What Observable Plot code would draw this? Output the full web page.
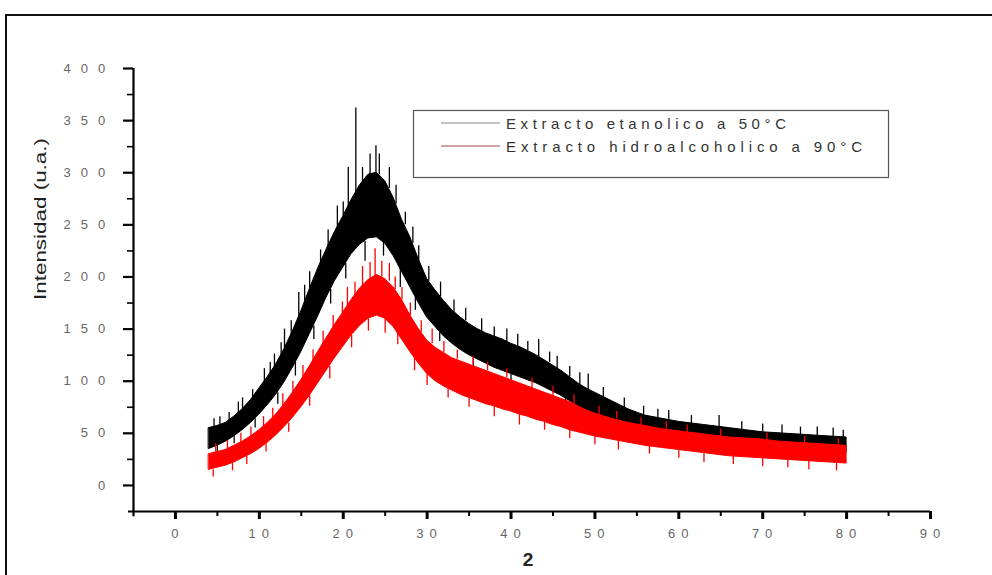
<!DOCTYPE html>
<html>
<head>
<meta charset="utf-8">
<script src="https://cdn.jsdelivr.net/npm/d3@7"></script>
<script src="https://cdn.jsdelivr.net/npm/@observablehq/plot@0.6"></script>
<style>
  html, body { margin: 0; padding: 0; background: #fff; }
  #wrap { position: relative; width: 992px; height: 575px; overflow: hidden; }
  #frame { position: absolute; left: 5px; top: 14px; width: 1100px; height: 700px;
           border-left: 2px solid #111; border-top: 2px solid #111; }
  #chart { position: absolute; left: 0; top: 0; }
  g[aria-label$="tick label"] { fill: #666; }
  g[aria-label="y-axis tick label"] { letter-spacing: 3.2px; }
  g[aria-label="x-axis tick label"] { letter-spacing: 1.2px; }
</style>
</head>
<body>
<div id="wrap"><div id="frame"></div><div id="chart"></div></div>
<script>
// ---- data (lower / upper edge of each noisy trace) ----
const blackX    = [4,5,6,7,8,9,10,11,12,13,14,15,16,17,18,19,20,21,22,23,24,25,26,27,28,29,30,31,32,33,34,35,36,37,38,39,40,41,42,43,44,45,46,47,48,49,50,51,52,53,54,55,56,58,60,62,64,66,68,70,72,74,76,78,80];
const blackLow  = [35,38,42,47,53,60,68,77,87,99,113,128,145,162,180,196,209,222,231,237,238,232,220,205,190,175,161,152,143,136,130,125,121,117,113,110,107,104,101,98,94,90,86,81,76,72,68,64,61,58,55,53,51,48,45,43,41,39,38,36,35,34,33,32,31];
const blackHigh = [55,57,60,66,73,82,93,104,116,131,148,167,188,208,226,243,258,274,288,298,300,292,276,255,238,217,198,187,177,168,161,155,150,146,143,140,136,133,129,125,120,115,110,104,98,93,89,85,81,77,73,70,67,64,61,59,57,55,53,51,50,49,48,47,46];

const redX    = [4,5,6,7,8,9,10,11,12,13,14,15,16,17,18,19,20,21,22,23,24,25,26,27,28,29,30,31,32,33,34,35,36,37,38,39,40,41,42,43,44,45,46,47,48,49,50,52,54,56,58,60,62,64,66,68,70,72,74,76,78,80];
const redLow  = [15,17,19,22,26,30,35,41,48,56,65,75,86,98,110,122,133,144,153,160,163,160,152,140,128,117,107,100,95,91,87,84,81,78,76,73,71,68,66,63,61,58,56,53,51,49,47,44,41,38,36,34,32,30,28,27,26,25,24,23,22,21];
const redHigh = [30,32,34,38,42,47,53,60,68,78,89,101,114,128,141,154,166,178,189,197,202,198,190,178,163,150,139,132,127,122,119,116,113,110,107,104,101,98,95,92,89,86,83,80,76,72,69,64,60,57,54,52,50,48,46,45,44,42,41,40,39,38];

// spikes: x, where the spike leaves the trace, its tip
const blackSpikeX    = [4.6,5.3,6.4,7.5,8.0,9.2,10.6,11.3,11.8,12.6,13.0,13.8,14.7,15.4,16.0,17.3,18.2,19.3,20.0,20.6,21.5,22.3,23.2,23.9,24.3,25.5,26.3,27.4,28.3,29.0,30.2,31.6,33.2,34.6,36.5,38.0,39.5,40.8,42.0,43.3,44.6,45.5,47.0,48.2,49.2,51.0,53.5,55.8,57.5,58.8,61.5,64.8,67.5,70.0,72.3,74.5,76.5,78.4,79.6,
                        5.0,7.0,9.5,12.2,14.3,16.5,18.5,20.3,22.6,24.8,26.8,28.6,31.5,35.5,40.0,46.5,52.5,60.5,68.5,76.0];
const blackSpikeBase = [52,55,58,68,71,80,98,106,112,122,128,144,160,175,186,212,228,245,256,262,275,290,298,298,298,285,270,250,232,215,196,181,165,158,147,143,138,133,129,123,118,112,104,97,90,85,74,67,64,62,59,56,53,51,49,49,47,46,46,
                        38,47,64,89,118,153,188,213,234,234,209,181,148,123,107,84,60,45,38,33];
const blackSpikeTip  = [64,66,70,80,84,92,112,118,126,137,150,158,185,192,205,226,245,268,272,305,362,305,318,326,318,305,288,262,248,230,210,195,178,170,160,152,150,145,138,140,128,124,114,108,107,94,84,76,73,72,67,67,61,59,58,56,56,55,53,
                        30,40,55,78,105,140,174,198,215,220,190,168,138,112,98,75,52,38,31,27];

const redSpikeX    = [4.8,6.2,7.8,9.0,10.5,11.6,12.8,14.0,15.2,16.4,17.6,18.8,19.9,20.5,21.4,22.3,23.2,23.8,24.6,25.5,26.2,27.0,28.0,29.3,30.6,32.0,33.6,35.5,37.2,39.5,42.5,45.0,47.5,50.5,52.6,55.5,58.5,61.0,65.0,70.5,75.0,79.0,
                      4.5,6.8,8.5,10.8,13.5,16.0,18.4,21.0,23.0,25.0,26.5,28.5,30.0,32.5,35.0,38.0,41.0,44.0,47.0,50.0,52.8,56.5,60.0,63.0,66.5,70.0,73.0,75.5,78.8];
const redSpikeBase = [31,34,41,47,56,64,76,89,103,119,135,151,165,172,182,190,198,200,200,196,188,178,163,147,136,127,121,116,110,103,93,86,78,68,64,57,54,51,47,44,41,39,
                      15,21,28,40,60,86,114,144,160,160,146,122,107,93,84,76,68,61,53,47,43,38,34,31,28,26,25,24,22];
const redSpikeTip  = [40,43,50,56,66,74,88,100,115,130,148,163,176,190,195,210,214,227,215,213,200,190,175,158,150,138,130,124,118,112,103,95,87,76,71,65,61,58,54,50,47,45,
                      8,14,20,32,51,76,102,132,148,146,135,110,96,84,75,66,58,53,45,39,34,30,26,22,20,18,17,15,14];

// axes
const xTicks = [0,10,20,30,40,50,60,70,80,90];
const xMinor = [5,15,25,35,45,55,65,75,85];
const yTicks = [0,50,100,150,200,250,300,350,400];
const yMinor = [25,75,125,175,225,275,325,375];
const xDomain = [-5, 90];
const yDomain = [-25, 400];

const seriesNames = ["Extracto etanolico a 50°C", "Extracto hidroalcoholico a 90°C"];
const seriesColors = ["#000000", "#ff0000"];
const legendLineColors = ["#8a8a8a", "#a04848"];
const xLabel = "2";
const yLabel = "Intensidad (u.a.)";

// ---- tables ----
const black = blackX.map((x, i) => ({x, lo: blackLow[i], hi: blackHigh[i]}));
const red = redX.map((x, i) => ({x, lo: redLow[i], hi: redHigh[i]}));
const bSpikes = blackSpikeX.map((x, i) => ({x, y1: blackSpikeBase[i], y2: blackSpikeTip[i]}));
const rSpikes = redSpikeX.map((x, i) => ({x, y1: redSpikeBase[i], y2: redSpikeTip[i]}));
const spaced = d => String(d).split("").join(" ");

const plot = Plot.plot({
  width: 992,
  height: 575,
  marginLeft: 133,
  marginRight: 62,
  marginTop: 68,
  marginBottom: 64,
  style: {fontFamily: "'Liberation Sans', Arial, sans-serif", fontSize: "13px", background: "transparent", color: "#000"},
  x: {domain: xDomain},
  y: {domain: yDomain},
  marks: [
    Plot.areaY(black, {x: "x", y1: "lo", y2: "hi", fill: seriesColors[0], stroke: seriesColors[0], strokeWidth: 1}),
    Plot.ruleX(bSpikes, {x: "x", y1: "y1", y2: "y2", stroke: seriesColors[0], strokeWidth: 1.3}),
    Plot.areaY(red, {x: "x", y1: "lo", y2: "hi", fill: seriesColors[1], stroke: seriesColors[1], strokeWidth: 1}),
    Plot.ruleX(rSpikes, {x: "x", y1: "y1", y2: "y2", stroke: seriesColors[1], strokeWidth: 1.3}),
    // axis lines
    Plot.ruleX([xDomain[0]], {y1: -30, y2: yDomain[1], stroke: "#000", strokeWidth: 2.2}),
    Plot.ruleY([yDomain[0]], {x1: -5.6, x2: xDomain[1], stroke: "#000", strokeWidth: 2}),
    // ticks
    Plot.axisY({ticks: yTicks, tickSize: 10, tickPadding: 15, tickFormat: spaced, strokeWidth: 2.2, label: null}),
    Plot.axisY(yMinor, {tickSize: 6, strokeWidth: 1.6, text: null, label: null}),
    Plot.axisX({ticks: xTicks, tickSize: 8, tickPadding: 9, tickFormat: spaced, strokeWidth: 3, label: null}),
    Plot.axisX(xMinor, {tickSize: 5, strokeWidth: 2, text: null, label: null}),
    // axis titles
    Plot.text([yLabel], {frameAnchor: "left", dx: -93, dy: 10, rotate: -90, fontSize: 17, fill: "#222", text: d => d}),
    Plot.text([xLabel], {frameAnchor: "bottom", dx: -4, dy: 54, fontSize: 19, fontWeight: "bold", fill: "#222", text: d => d})
  ]
});
document.getElementById("chart").appendChild(plot);

// stretch the y title like the original
d3.select(plot).selectAll("g[aria-label='text'] text").filter(function() { return this.textContent === yLabel; })
  .attr("textLength", 162).attr("lengthAdjust", "spacingAndGlyphs");

// ---- legend (inside the plot, top right) ----
const svg = d3.select(plot);
const lg = svg.append("g").attr("aria-label", "legend").attr("text-anchor", "start");
lg.append("rect").attr("x", 413.5).attr("y", 110.5).attr("width", 475).attr("height", 67)
  .attr("fill", "#fff").attr("stroke", "#555").attr("stroke-width", 1.2);
const legendTextLen = [280, 356];
seriesNames.forEach((name, i) => {
  const y = 123 + i * 23;
  lg.append("line").attr("x1", 441).attr("x2", 500).attr("y1", y).attr("y2", y)
    .attr("stroke", legendLineColors[i]).attr("stroke-width", 1.2);
  lg.append("text").attr("x", 506).attr("y", y + 5.5).text(name)
    .attr("text-anchor", "start")
    .attr("font-size", 15).attr("fill", "#333")
    .attr("textLength", legendTextLen[i]).attr("lengthAdjust", "spacing");
});
</script>
</body>
</html>
